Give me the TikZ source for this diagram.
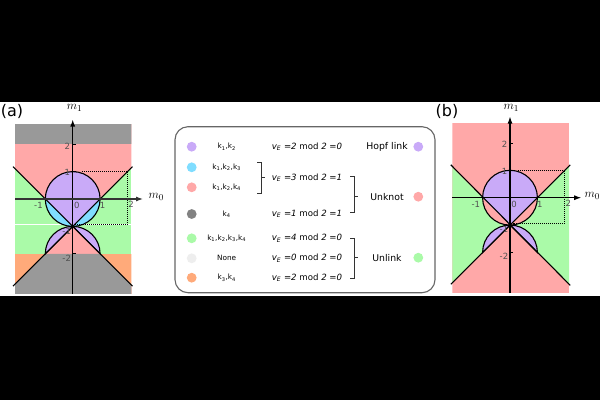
\documentclass[tikz,border=0pt]{standalone}
\usepackage{fontspec}
\setmainfont{DejaVu Sans}
\usetikzlibrary{arrows.meta}
\definecolor{cpurple}{HTML}{C9AAF8}
\definecolor{ccyan}{HTML}{80DDFF}
\definecolor{cred}{HTML}{FFA8A8}
\definecolor{cgray}{HTML}{999999}
\definecolor{cgreen}{HTML}{AAFAA8}
\definecolor{cnone}{HTML}{EEEEEE}
\definecolor{corange}{HTML}{FFAA7A}
\definecolor{ctick}{HTML}{505050}
\newcommand{\kk}[1]{k\textsubscript{#1}}
\newcommand{\veq}[2]{\textit{v\textsubscript{E} =#1} mod \textit{2 =#2}}
\tikzset{
  curve/.style={draw=black, line width=1.1pt},
  axisline/.style={draw=black, line width=1.1pt, -{Latex[length=7pt,width=5pt]}},
  dotline/.style={draw=black, line width=1pt, dash pattern=on 1pt off 1pt},
  ticklab/.style={text=ctick, font=\fontsize{8.5}{9}\selectfont, inner sep=0pt},
  axlab/.style={font=\fontsize{12.5}{13}\selectfont, inner sep=0pt},
  panlab/.style={font=\fontsize{16}{18}\selectfont, inner sep=0pt},
  smalllab/.style={font=\fontsize{7.3}{8}\selectfont, inner sep=0pt},
  eqlab/.style={font=\fontsize{8.6}{10}\selectfont, inner sep=0pt, anchor=west},
  linklab/.style={font=\fontsize{9.3}{11}\selectfont, inner sep=0pt},
  brk/.style={draw=black!80, line width=0.7pt},
}
\begin{document}
\begin{tikzpicture}[x=1pt,y=-1pt]
\fill[black] (0,0) rectangle (600,400);
\fill[white] (0,102) rectangle (600,296);
\useasboundingbox (0,0) rectangle (600,400);

% ---------------- panel (a)
\begin{scope}[shift={(72.7,199)}, x=27.4pt, y=27.4pt]
  \begin{scope}
    \clip (-2.1,-3.46) rectangle (2.14,2.72);
    \fill[cgreen] (-2.1,-3.46) rectangle (2.14,2.72);
    \fill[cred] (-3,2) -- (0,-1) -- (3,2) -- (3,3) -- (-3,3) -- cycle;
    \fill[cgray] (-3,2) rectangle (3,3);
    \fill[corange] (-3,-2) rectangle (3,-4);
    \fill[cred] (-3,-4) -- (0,-1) -- (3,-4) -- cycle;
    \fill[cgray] (-1,-2) -- (1,-2) -- (3,-4) -- (-3,-4) -- cycle;
    \draw[white, line width=1pt] (-3,-0.93) -- (3,-0.93);
  \end{scope}
  \fill[cpurple] (-1,0) arc[start angle=180,end angle=0,radius=27.4pt] -- cycle;
  \fill[ccyan] (-1,0) arc[start angle=180,end angle=360,radius=27.4pt] -- cycle;
  \fill[cpurple] (-1,0) -- (1,0) -- (0,-1) -- cycle;
  \filldraw[fill=cpurple, curve] (0,-1) arc[start angle=90,end angle=180,radius=27.4pt] -- cycle;
  \filldraw[fill=cpurple, curve] (0,-1) arc[start angle=90,end angle=0,radius=27.4pt] -- cycle;
  \coordinate (a1) at (-2.18,1.18);
  \coordinate (a2) at (2.18,-3.18);
  \coordinate (a3) at (2.18,1.18);
  \coordinate (a4) at (-2.18,-3.18);
  \draw[curve] (a1) -- (a2);
  \draw[curve] (a3) -- (a4);
  \draw[curve] (0,0) circle[radius=27.4pt];
  \draw[dotline] (0.35,1) -- (2,1) -- (2,-0.93) -- (0.1,-0.93);
  \coordinate (ay0) at (0,-3.46);
  \coordinate (ay1) at (0,2.9);
  \coordinate (ax0) at (-2.1,0);
  \coordinate (ax1) at (2.57,0);
  \draw[axisline] (ay0) -- (ay1);
  \draw[axisline, draw=black!80, line width=1.5pt] (ax0) -- (ax1);
  \foreach \v in {-2,-1,1,2} \draw[black, line width=0.7pt] (0,\v) -- ++(3pt,0);
  \node[axlab] (am1) at (0.07,3.32) {$m_1$};
  \node[axlab] (am0) at (3.05,0.07) {$m_0$};
  \node[ticklab] (at2) at (-0.2,1.93) {2};
  \node[ticklab] (at1) at (-0.2,0.97) {1};
  \node[ticklab] (atm1) at (-0.22,-1.17) {-1};
  \node[ticklab] (atm2) at (-0.22,-2.15) {-2};
  \node[ticklab] (ah0) at (0.15,-0.25) {0};
  \node[ticklab] (ah1) at (1.09,-0.23) {1};
  \node[ticklab] (ahm1) at (-1.25,-0.23) {-1};
  \node[ticklab] (ah2) at (2.13,-0.2) {2};
\end{scope}
\node[panlab] (pa) at (12,111) {(a)};

% ---------------- panel (b)
\begin{scope}[shift={(510,197.7)}, x=27.4pt, y=27.4pt]
  \begin{scope}
    \clip (-2.1,-3.46) rectangle (2.16,2.72);
    \fill[cred] (-2.1,-3.46) rectangle (2.16,2.72);
    \fill[cgreen] (-3,2) -- (0,-1) -- (-3,-4) -- cycle;
    \fill[cgreen] (3,2) -- (0,-1) -- (3,-4) -- cycle;
  \end{scope}
  \fill[cpurple] (-1,0) arc[start angle=180,end angle=0,radius=27.4pt] -- cycle;
  \fill[cred] (-1,0) arc[start angle=180,end angle=360,radius=27.4pt] -- cycle;
  \fill[cpurple] (-1,0) -- (1,0) -- (0,-1) -- cycle;
  \filldraw[fill=cpurple, curve] (0,-1) arc[start angle=90,end angle=180,radius=27.4pt] -- cycle;
  \filldraw[fill=cpurple, curve] (0,-1) arc[start angle=90,end angle=0,radius=27.4pt] -- cycle;
  \coordinate (b1) at (-2.16,1.2);
  \coordinate (b2) at (2.2,-3.2);
  \coordinate (b3) at (2.2,1.2);
  \coordinate (b4) at (-2.16,-3.16);
  \draw[curve] (b1) -- (b2);
  \draw[curve] (b3) -- (b4);
  \draw[curve] (0,0) circle[radius=27.4pt];
  \draw[dotline] (0.28,1) -- (2,1) -- (2,-0.93) -- (0.1,-0.93);
  \coordinate (by0) at (0,-3.46);
  \coordinate (by1) at (0,2.96);
  \coordinate (bx0) at (-2.1,0);
  \coordinate (bx1) at (2.6,0);
  \draw[axisline] (by0) -- (by1);
  \draw[axisline] (bx0) -- (bx1);
  \foreach \v in {-2,-1,1,2} \draw[black, line width=0.7pt] (0,\v) -- ++(3pt,0);
  \node[axlab] (bm1) at (0.05,3.29) {$m_1$};
  \node[axlab] (bm0) at (3.0,0.06) {$m_0$};
  \node[ticklab] (bt2) at (-0.2,1.93) {2};
  \node[ticklab] (bt1) at (-0.2,0.97) {1};
  \node[ticklab] (btm1) at (-0.22,-1.17) {-1};
  \node[ticklab] (btm2) at (-0.22,-2.15) {-2};
  \node[ticklab] (bh0) at (0.15,-0.25) {0};
  \node[ticklab] (bh1) at (1.09,-0.23) {1};
  \node[ticklab] (bhm1) at (-1.25,-0.23) {-1};
  \node[ticklab] (bh2) at (2.13,-0.2) {2};
\end{scope}
\node[panlab] (pb) at (447,111) {(b)};

% ---------------- legend
\draw[draw=black!60, line width=1.1pt, rounded corners=13pt] (175,126.7) rectangle (435,292.7);
\fill[cpurple] (191.7,146.7) circle[radius=4.9pt];
\fill[ccyan]   (191.7,167.3) circle[radius=4.9pt];
\fill[cred]    (191.7,187.3) circle[radius=4.9pt];
\fill[cgray!85!black] (191.7,214.0) circle[radius=4.9pt];
\fill[cgreen]  (191.7,238.3) circle[radius=4.9pt];
\fill[cnone]   (191.7,258.3) circle[radius=4.9pt];
\fill[corange] (191.7,277.7) circle[radius=4.9pt];

\node[smalllab] (l1) at (226.7,146.7) {\kk{1},\kk{2}};
\node[smalllab] (l2) at (226.7,167.3) {\kk{1},\kk{2},\kk{3}};
\node[smalllab] (l3) at (226.7,187.3) {\kk{1},\kk{2},\kk{4}};
\node[smalllab] (l4) at (226.7,214.0) {\kk{4}};
\node[smalllab] (l5) at (226.7,238.3) {\kk{1},\kk{2},\kk{3},\kk{4}};
\node[smalllab] (l6) at (226.7,258.3) {None};
\node[smalllab] (l7) at (226.7,277.7) {\kk{3},\kk{4}};

\node[eqlab] (e1) at (271.7,146.7) {\veq{2}{0}};
\node[eqlab] (e2) at (271.7,177.5) {\veq{3}{1}};
\node[eqlab] (e4) at (271.7,214.0) {\veq{1}{1}};
\node[eqlab] (e5) at (271.7,238.3) {\veq{4}{0}};
\node[eqlab] (e6) at (271.7,258.3) {\veq{0}{0}};
\node[eqlab] (e7) at (271.7,277.7) {\veq{2}{0}};

% brackets
\draw[brk] (257.3,162.3) -- (261.7,162.3) -- (261.7,193.3) -- (257.3,193.3);
\draw[brk] (261.7,177.5) -- (265,177.5);
\draw[brk] (350,176.7) -- (354.3,176.7) -- (354.3,212.7) -- (350,212.7);
\draw[brk] (354.3,196.7) -- (357.6,196.7);
\draw[brk] (350,238.3) -- (354.3,238.3) -- (354.3,278.3) -- (350,278.3);
\draw[brk] (354.3,257.7) -- (357.6,257.7);

\node[linklab] (n1) at (387,146.7) {Hopf link};
\node[linklab] (n2) at (387,196.7) {Unknot};
\node[linklab] (n3) at (387,257.7) {Unlink};
\fill[cpurple] (418.3,146.7) circle[radius=4.9pt];
\fill[cred]    (418.3,196.7) circle[radius=4.9pt];
\fill[cgreen]  (418.3,257.7) circle[radius=4.9pt];
\end{tikzpicture}
\end{document}
